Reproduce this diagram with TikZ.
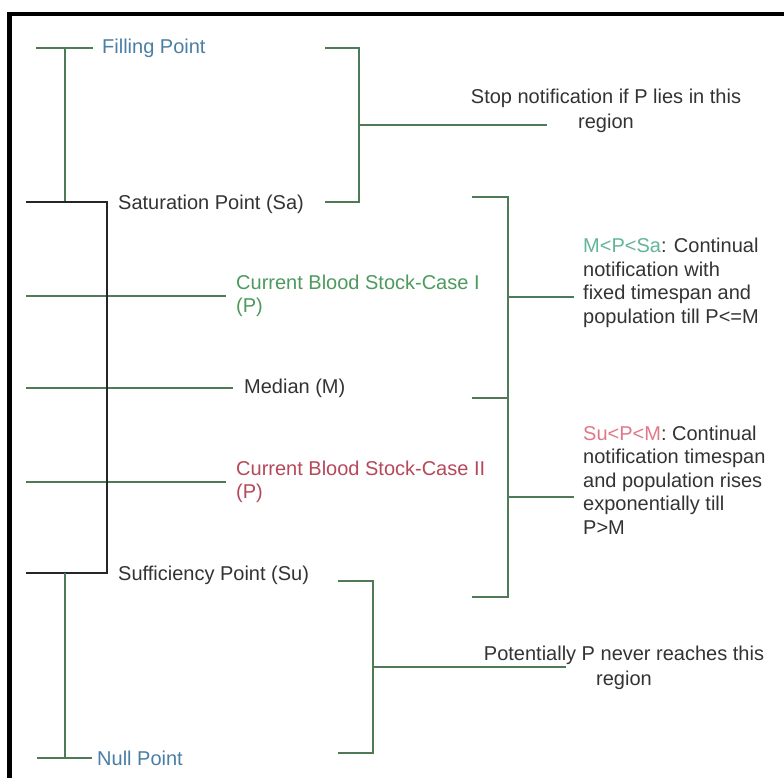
\documentclass[tikz,border=0pt]{standalone}
\usepackage{fontspec}
\setmainfont{Liberation Sans}
\definecolor{ln}{HTML}{4F7A58}
\definecolor{fillblue}{HTML}{4A7FA5}
\definecolor{caseone}{HTML}{4E9A5E}
\definecolor{casetwo}{HTML}{B5485A}
\definecolor{mteal}{HTML}{62B59A}
\definecolor{supink}{HTML}{E0788A}
\definecolor{txt}{HTML}{333333}
\begin{document}
\begin{tikzpicture}[x=1pt,y=-1pt,
  lbl/.style={anchor=west, inner sep=1pt, font=\fontsize{20}{23.5}\selectfont, text=txt, align=left},
  cbl/.style={anchor=center, inner sep=1pt, font=\fontsize{20}{25}\selectfont, text=txt, align=center},
  gline/.style={draw=ln, line width=1.8pt},
  bline/.style={draw=black!85, line width=1.8pt},
  frameline/.style={draw=black, line width=4.5pt}]
\useasboundingbox (0,0) rectangle (784,778);
\fill[white] (0,0) rectangle (784,778);
% frame
\coordinate (fa) at (9.5,780);
\coordinate (fb) at (9.5,14);
\coordinate (fc) at (786,14);
\draw[frameline] (fa) -- (fb) -- (fc);

% left labels
\node[lbl, text=fillblue] (fill) at (101,48) {Filling Point};
\node[lbl] (sat) at (117,204) {Saturation Point (Sa)};
\node[lbl, text=caseone] (c1) at (235,296) {Current Blood Stock-Case I\\(P)};
\node[lbl] (med) at (243,388) {Median (M)};
\node[lbl, text=casetwo] (c2) at (235,482) {Current Blood Stock-Case II\\(P)};
\node[lbl] (suf) at (117,575) {Sufficiency Point (Su)};
\node[lbl, text=fillblue] (null) at (96,758) {Null Point};

% left tree coordinates
\coordinate (flA) at (36,48);
\coordinate (flV) at (65,48);
\coordinate (saA) at (26,202);
\coordinate (saV) at (65,202);
\coordinate (saB) at (107,202);
\coordinate (suB) at (107,573);
\coordinate (suA) at (26,573);
\coordinate (suV) at (65,573);
\coordinate (nuV) at (65,758);
\coordinate (nuA) at (37,758);
\coordinate (c1A) at (26,296);
\coordinate (mdA) at (26,388);
\coordinate (c2A) at (26,482);

\draw[gline, shorten >=8pt] (flA) -- (fill.west);
\draw[gline] (flV) -- (saV);
\draw[gline, shorten >=9pt] (c1A) -- (c1.west);
\draw[gline, shorten >=10pt] (mdA) -- (med.west);
\draw[gline, shorten >=9pt] (c2A) -- (c2.west);
\draw[bline] (saA) -- (saB) -- (suB) -- (suA);
\draw[gline] (suV) -- (nuV);
\draw[gline, shorten >=4pt] (nuA) -- (null.west);

% top bracket
\coordinate (t1) at (325,48);
\coordinate (t2) at (359,48);
\coordinate (t3) at (359,202);
\coordinate (t4) at (325,202);
\coordinate (tm) at (359,125);
\coordinate (tend) at (547,125);
\node[cbl] (stop) at (606,111) {Stop notification if P lies in this\\region};
\draw[gline] (t1) -- (t2) -- (t3) -- (t4);
\draw[gline] (tm) -- (tend);

% middle bracket
\coordinate (m1) at (472,197);
\coordinate (m2) at (508,197);
\coordinate (m3) at (508,597);
\coordinate (m4) at (472,597);
\coordinate (mm) at (472,398);
\coordinate (mmv) at (508,398);
\coordinate (ua) at (508,297);
\coordinate (la) at (508,497);
\node[lbl] (up) at (582,283) {\textcolor{mteal}{M<P<Sa}: Continual\\notification with\\fixed timespan and\\population till P<=M};
\node[lbl] (lo) at (582,480) {\textcolor{supink}{Su<P<M}: Continual\\notification timespan\\and population rises\\exponentially till\\P>M};
\coordinate (ub) at (574,297);
\coordinate (lb) at (574,497);
\draw[gline] (m1) -- (m2) -- (m3) -- (m4);
\draw[gline] (mm) -- (mmv);
\draw[gline] (ua) -- (ub);
\draw[gline] (la) -- (lb);

% bottom bracket
\coordinate (b1) at (338,581);
\coordinate (b2) at (373,581);
\coordinate (b3) at (373,753);
\coordinate (b4) at (338,753);
\coordinate (bm) at (373,667);
\coordinate (bend) at (566,667);
\node[cbl] (pot) at (624,668) {Potentially P never reaches this\\region};
\draw[gline] (b1) -- (b2) -- (b3) -- (b4);
\draw[gline] (bm) -- (bend);
\end{tikzpicture}
\end{document}
